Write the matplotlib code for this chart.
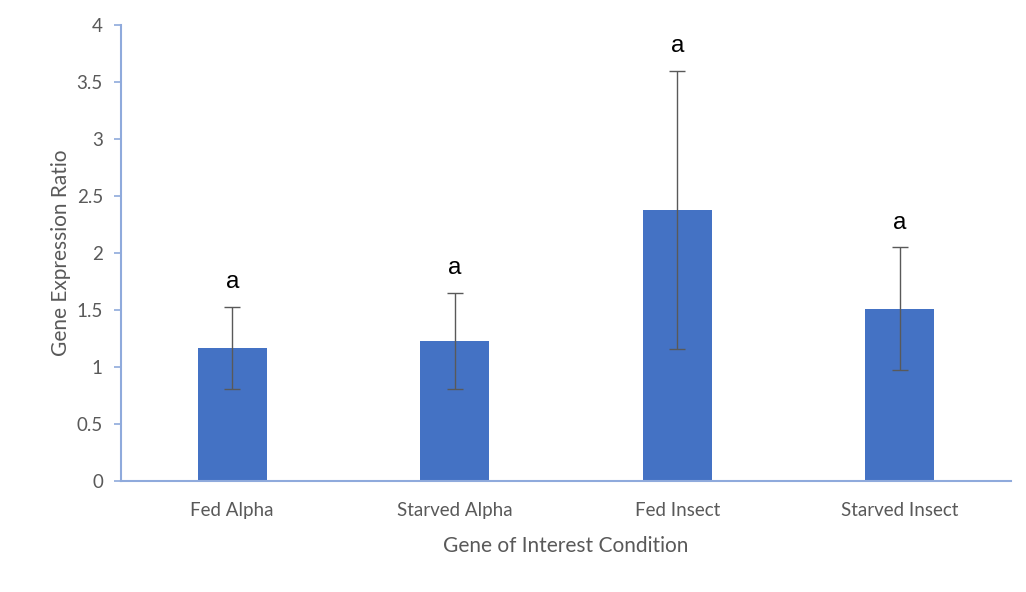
import numpy as np
import matplotlib.pyplot as plt

# gene expression ratio per condition, with standard error
conditions = ["Fed Alpha", "Starved Alpha", "Fed Insect", "Starved Insect"]
ratios = [1.17, 1.23, 2.38, 1.51]
errors = [0.36, 0.42, 1.22, 0.54]
letters = ["a", "a", "a", "a"]

bar_color = "#4472C4"
axis_color = "#8FAADC"
text_color = "#595959"

fig = plt.figure(figsize=(10.26, 5.92), dpi=100)
ax = fig.add_axes([0.1179, 0.1875, 0.8675, 0.7703])

x = np.arange(len(conditions))
ax.bar(x, ratios, width=0.31, color=bar_color, zorder=2)
ax.errorbar(x, ratios, yerr=errors, fmt="none", ecolor=text_color,
            elinewidth=1.0, capsize=5.5, capthick=1.0, zorder=3)

# significance letters above each error bar
for xi, r, e, lab in zip(x, ratios, errors, letters):
    ax.text(xi, r + e + 0.12, lab, ha="center", va="bottom", fontsize=17.5,
            family="Liberation Sans", color="black")

ax.set_xlim(-0.5, len(conditions) - 0.5)
ax.set_ylim(0, 4)
ax.set_yticks(np.arange(0, 4.01, 0.5))
ax.set_yticklabels(["0", "0.5", "1", "1.5", "2", "2.5", "3", "3.5", "4"])
ax.set_xticks(x)
ax.set_xticklabels(conditions)

for side in ["top", "right"]:
    ax.spines[side].set_visible(False)
for side in ["left", "bottom"]:
    ax.spines[side].set_color(axis_color)
    ax.spines[side].set_linewidth(1.5)

ax.tick_params(axis="y", colors=axis_color, length=5, width=1.2,
               labelcolor=text_color, labelsize=13.5, pad=8)
ax.tick_params(axis="x", length=0, labelcolor=text_color, labelsize=13.5, pad=15)
for lbl in ax.get_xticklabels() + ax.get_yticklabels():
    lbl.set_family("Lato")

ax.set_ylabel("Gene Expression Ratio", fontsize=15, color=text_color,
              family="Lato", labelpad=4)
ax.set_xlabel("Gene of Interest Condition", fontsize=15, color=text_color,
              family="Lato", labelpad=12)

fig.savefig("out.png", dpi=100)
